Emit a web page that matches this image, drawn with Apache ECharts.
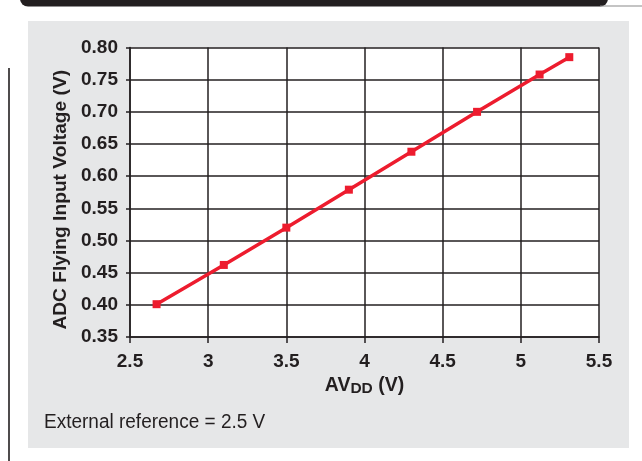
<!DOCTYPE html>
<html>
<head>
<meta charset="utf-8">
<script src="https://cdn.jsdelivr.net/npm/echarts@6/dist/echarts.min.js"></script>
<style>
html,body{margin:0;padding:0;background:#fff;}
#c{width:642px;height:461px;}
</style>
</head>
<body>
<div id="c"></div>
<script>
// Data
const avdd = [2.67, 3.10, 3.50, 3.90, 4.30, 4.72, 5.12, 5.31];
const flyingVoltage = [0.401, 0.462, 0.520, 0.579, 0.638, 0.700, 0.758, 0.785];
const xTicks = [2.5, 3, 3.5, 4, 4.5, 5, 5.5];
const yTicks = ['0.35','0.40','0.45','0.50','0.55','0.60','0.65','0.70','0.75','0.80'];
const yTitle = 'ADC Flying Input Voltage (V)';
const noteText = 'External reference = 2.5 V';

const ink = '#231f20';
const chart = echarts.init(document.getElementById('c'), null, {renderer: 'canvas'});
const boldFont = {fontFamily: '"Liberation Sans", Arial, sans-serif', fontWeight: 'bold', color: ink};

chart.setOption({
  backgroundColor: '#ffffff',
  animation: false,
  graphic: [
    { type: 'rect', z: -100, shape: {x: 28, y: 21, width: 601, height: 427}, style: {fill: '#e6e7e8'} },
    { type: 'rect', z: -100, shape: {x: 20, y: -10, width: 588, height: 16.5, r: [0, 0, 8, 8]}, style: {fill: '#231f20'} },
    { type: 'line', z: -100, shape: {x1: 600, y1: 6, x2: 642, y2: 6}, style: {stroke: '#8a8a8a', lineWidth: 1.2} },
    { type: 'line', z: -100, shape: {x1: 9, y1: 68, x2: 9, y2: 461}, style: {stroke: '#231f20', lineWidth: 1.6} },
    { type: 'text', z: 10, x: 44, y: 422, scaleX: 0.95, scaleY: 1,
      style: {text: noteText, fill: ink, font: '20px "Liberation Sans", Arial, sans-serif', textVerticalAlign: 'middle', textAlign: 'left'} }
  ],
  grid: {
    left: 130, top: 47.5, width: 469, height: 289.5,
    show: true, backgroundColor: '#ffffff', borderWidth: 0
  },
  xAxis: {
    type: 'value', min: xTicks[0], max: xTicks[xTicks.length - 1], interval: 0.5,
    name: '{a|AV}{sub|DD}{a| (V)}',
    nameLocation: 'middle', nameGap: 38,
    nameTextStyle: {
      rich: {
        a: Object.assign({fontSize: 19.5, lineHeight: 22}, boldFont),
        sub: Object.assign({fontSize: 15.5, lineHeight: 10, verticalAlign: 'bottom'}, boldFont)
      }
    },
    axisLine: {show: true, lineStyle: {color: ink, width: 1.5}},
    axisTick: {show: true, inside: false, length: 6, lineStyle: {color: ink, width: 1.5}},
    axisLabel: Object.assign({fontSize: 19, margin: 15, formatter: v => String(v)}, boldFont),
    splitLine: {show: true, lineStyle: {color: ink, width: 1.5}}
  },
  yAxis: {
    type: 'value', min: Number(yTicks[0]), max: Number(yTicks[yTicks.length - 1]), interval: 0.05,
    name: yTitle, nameLocation: 'middle', nameRotate: 90, nameGap: 49,
    nameTextStyle: Object.assign({fontSize: 19.2, padding: [0, 15, 0, 0]}, boldFont),
    axisLine: {show: true, lineStyle: {color: ink, width: 1.5}},
    axisTick: {show: true, inside: false, length: 4, lineStyle: {color: ink, width: 1.5}},
    axisLabel: Object.assign({fontSize: 19, margin: 12, formatter: v => {
      const i = Math.round((v - Number(yTicks[0])) / 0.05);
      return yTicks[i] !== undefined ? yTicks[i] : v.toFixed(2);
    }}, boldFont),
    splitLine: {show: true, lineStyle: {color: ink, width: 1.5}}
  },
  series: [{
    type: 'line',
    data: avdd.map((x, i) => [x, flyingVoltage[i]]),
    symbol: 'rect', symbolSize: 8,
    lineStyle: {color: '#ed1c2e', width: 3.5},
    itemStyle: {color: '#ed1c2e'},
    z: 5
  }]
});
</script>
</body>
</html>
